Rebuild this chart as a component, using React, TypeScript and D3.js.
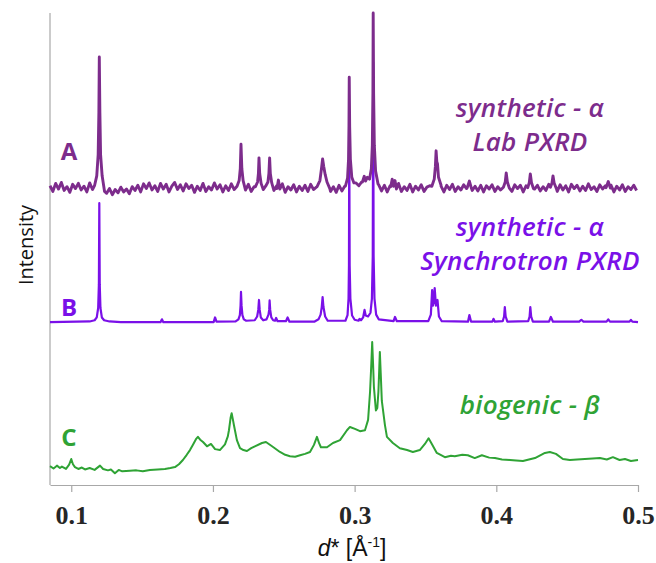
import React, { useEffect, useRef } from "react";
import * as d3 from "d3";

const WIDTH = 656;
const HEIGHT = 563;

const xTicks = [0.1, 0.2, 0.3, 0.4, 0.5];

// vertical offsets of the stacked patterns (intensity units, 0-100 axis)
const offsetA = 63;
const offsetB = 34.5;
const offsetC = 3.8;

// A: lab PXRD, noisy baseline sampled every 0.002 from d* = 0.085
const labBaselineStart = 0.085;
const labBaselineStep = 0.002;
const labBaseline = [
  0.4, -0.8, 0.9, -0.3, 1.1, -0.6, 0.2, -1.0, 0.7, -0.2,
  0.9, -0.5, 0.3, -0.9, 1.0, -0.4, 0.5, 0.6, -0.3, -0.8,
  -1.2, -0.2, -1.5, -0.4, -1.1, 0.1, -0.9, -0.3, -1.3, 0.2,
  -0.6, 0.5, -0.9, 0.8, -0.2, 1.0, -0.5, 0.4, -0.8, 0.9,
  -0.3, 0.7, -0.9, 0.3, 1.1, -0.4, 0.6, -0.7, 0.8, -0.2,
  0.5, -1.0, 0.3, -0.6, 0.9, -0.8, 0.2, -0.5, 1.0, -0.3,
  0.6, -0.9, 0.4, -0.6, 0.8, -0.4, 0.5, -0.7, 0.3, -0.5,
  0.7, -0.8, 0.2, -0.4, 0.9, -0.6, 0.3, -0.5, 0.6, -0.9,
  0.4, -0.7, 0.8, -1.0, 0.2, -0.5, 0.6, -0.9, 0.3, -0.6,
  0.5, -0.8, 0.7, -0.4, 0.1, -0.9, 0.6, -0.3, 0.4, -0.8,
  0.2, -1.0, 0.5, -0.7, 0.3, -0.4, 0.8, 0.1, 1.0, 0.4,
  1.2, 0.6, 1.4, 0.8, 0.9, -0.2, 0.6, -0.7, 0.5, -0.9,
  0.4, 1.1, -0.3, 0.9, -0.8, 0.2, -0.6, 0.7, -0.9, 0.3,
  -0.5, 0.6, -0.8, 0.1, 0.4, -0.3, 0.5, -0.6, 0.3, -0.9,
  0.5, -0.4, 0.7, -0.8, 0.2, -0.5, 0.6, -0.2, 0.8, -0.6,
  0.3, -0.7, 0.5, -0.9, 0.4, -0.3, 0.6, -0.8, 0.2, -0.5,
  0.7, -0.4, 0.3, -0.8, 0.6, -0.2, 0.5, -0.9, 0.4, -0.6,
  0.8, -0.3, 0.5, -0.7, 0.2, -0.6, 0.7, -0.4, 0.3, -0.8,
  0.6, -0.5, 0.4, -0.9, 0.7, -0.2, 0.5, -0.7, 0.3, -0.6,
  0.8, -0.4, 0.2, -0.8, 0.6, -0.3, 0.4, -0.7, 0.5, -0.9,
  0.3, -0.5, 0.6, -0.8, 0.2, -0.4, 0.5, -0.6,
];

// A: peaks as [d*, intensity] points
const labPeaks: [number, number][][] = [
  [[0.1165, 0.5], [0.118, 2.5], [0.119, 7], [0.1195, 16], [0.1198, 27.7], [0.1202, 16], [0.1207, 7], [0.1218, 2.5], [0.1235, -0.8]],
  [[0.217, 0.3], [0.2185, 1.5], [0.2193, 4], [0.2198, 9.2], [0.2204, 4], [0.2213, 1.5], [0.2228, -0.3]],
  [[0.23, 0.2], [0.2315, 1.2], [0.2321, 3], [0.2325, 6.3], [0.233, 3], [0.234, 0.9], [0.2355, -0.4], [0.2372, 0.3], [0.2388, 1.2], [0.2395, 3], [0.24, 6.3], [0.2405, 3], [0.2415, 1], [0.243, -0.6]],
  [[0.2452, -0.2], [0.2462, 1.6], [0.2472, -0.3]],
  [[0.2735, 0.2], [0.2755, 1.5], [0.2766, 4], [0.2774, 6.1], [0.2782, 4.5], [0.2792, 2.8], [0.2805, 1.2], [0.2825, -0.2]],
  [[0.2935, 0.3], [0.295, 2], [0.2957, 6], [0.296, 13], [0.2962, 23.4], [0.2965, 13], [0.297, 6], [0.298, 2.2], [0.2995, 1.0]],
  [[0.3055, 1.2], [0.3068, 2.4], [0.3077, 1.4], [0.309, 2.2], [0.3105, 1.8], [0.3118, 4], [0.3125, 9], [0.3129, 20], [0.3131, 37], [0.3134, 20], [0.3139, 9], [0.3148, 3.5], [0.3165, 0.8]],
  [[0.3255, 0.2], [0.3265, 1.8], [0.3275, 0.3], [0.3285, 1.5], [0.3295, -0.3]],
  [[0.3545, 0.3], [0.3562, 1.8], [0.357, 4.5], [0.3575, 7.8], [0.358, 5.5], [0.3585, 5.0], [0.3592, 2.2], [0.361, 0.5]],
  [[0.3795, 0], [0.381, 1.4], [0.3825, -0.2]],
  [[0.405, 0.1], [0.4063, 1.2], [0.407, 3.1], [0.4078, 1.2], [0.4092, -0.1]],
  [[0.4222, 0], [0.4233, 1.1], [0.424, 2.9], [0.4248, 1.1], [0.4262, -0.2]],
  [[0.4382, 0.1], [0.4393, 1], [0.44, 2.5], [0.4408, 1.0], [0.4425, -0.3]],
  [[0.4775, 0], [0.479, 1.3], [0.4805, -0.1]],
];

// B: synchrotron PXRD, [d*, intensity]
const synchrotron: [number, number][] = [
  [0.085, 0], [0.113, 0.15], [0.1165, 0.4], [0.118, 1.0], [0.119, 3], [0.1195, 8], [0.1198, 25.2],
  [0.1201, 8], [0.1206, 3], [0.1216, 1.0], [0.1232, 0.4], [0.127, 0.15], [0.135, 0],
  [0.163, 0], [0.164, 0.6], [0.165, 0],
  [0.2005, 0], [0.2015, 1.0], [0.2025, 0.1],
  [0.216, 0.15], [0.218, 0.6], [0.219, 1.5], [0.2195, 3.5], [0.2198, 6.4], [0.2202, 3.5], [0.2208, 1.5], [0.2218, 0.6],
  [0.2235, 0.3], [0.2295, 0.4], [0.2312, 1.2], [0.232, 2.6], [0.2325, 4.7], [0.233, 2.6], [0.2338, 1.0], [0.2355, 0.4],
  [0.2378, 0.6], [0.2392, 1.6], [0.2397, 2.6], [0.24, 4.6], [0.2404, 2.6], [0.2412, 1.0], [0.2425, 0.4],
  [0.2438, 0.3], [0.2446, 0.9], [0.2456, 0.2], [0.2515, 0.2], [0.2527, 1.0], [0.254, 0.1],
  [0.2715, 0.1], [0.2745, 0.6], [0.276, 1.6], [0.2768, 3.2], [0.2774, 5.3], [0.278, 3.2], [0.2792, 1.2], [0.281, 0.3],
  [0.2935, 0.3], [0.295, 1.5], [0.2957, 5], [0.296, 12], [0.2962, 40], [0.2965, 12], [0.297, 5], [0.2982, 1.4],
  [0.3, 0.5], [0.3028, 0.3], [0.3035, 0.7], [0.3045, 0.4], [0.306, 1.0], [0.307, 2.6], [0.3078, 1.4],
  [0.3095, 1.2], [0.3112, 2], [0.3122, 5], [0.3128, 14], [0.3131, 55], [0.3134, 14], [0.314, 5], [0.3152, 1.6],
  [0.317, 0.6], [0.3275, 0.2], [0.3285, 1.1], [0.3298, 0.2],
  [0.352, 0.2], [0.3538, 1.6], [0.3547, 6.8], [0.3553, 3.5], [0.3558, 4.2], [0.3565, 7.2], [0.3574, 3.5],
  [0.3585, 4.7], [0.3595, 1.2], [0.3615, 0.2],
  [0.38, 0.1], [0.381, 1.5], [0.3822, 0.1], [0.3972, 0.1], [0.398, 0.7], [0.399, 0.1],
  [0.4045, 0.2], [0.4055, 1.2], [0.406, 3.2], [0.4066, 1.2], [0.4078, 0.1],
  [0.4225, 0.2], [0.4235, 1.2], [0.424, 3.2], [0.4246, 1.2], [0.4258, 0.1],
  [0.4372, 0.1], [0.4385, 1.1], [0.44, 0.1], [0.4585, 0.1], [0.46, 0.5], [0.4615, 0.1],
  [0.4778, 0.1], [0.479, 0.6], [0.4802, 0.1], [0.494, 0.1], [0.495, 0.5], [0.496, 0.1], [0.5, 0],
];

// C: biogenic, [d*, intensity]
const biogenic: [number, number][] = [
  [0.085, 0.2], [0.0875, -0.3], [0.0899, 0.3], [0.092, -0.2], [0.0934, 0.1], [0.0963, -0.4], [0.0985, 0.5],
  [0.1, 1.7], [0.1012, 0.6], [0.1026, 0.0], [0.105, -0.4], [0.1075, -0.1], [0.1097, -0.5], [0.113, -0.2],
  [0.1165, -0.6], [0.1203, 0.3], [0.1225, -0.4], [0.1259, -0.7], [0.128, -0.5], [0.1308, -1.3], [0.1335, -0.6],
  [0.136, -0.9], [0.1414, -0.8], [0.146, -0.7], [0.1505, -0.9], [0.1555, -0.6], [0.161, -0.5], [0.1661, -0.4],
  [0.17, -0.2], [0.1732, 0.0], [0.176, 0.6], [0.1788, 1.5], [0.1815, 2.6], [0.1838, 3.6], [0.186, 4.8],
  [0.188, 5.9], [0.1894, 6.4], [0.191, 5.8], [0.193, 5.3], [0.1958, 4.4], [0.1986, 4.9], [0.2015, 3.8],
  [0.2049, 3.6], [0.2085, 4.8], [0.2105, 6.5], [0.2113, 7.8], [0.2125, 10.5], [0.2132, 11.4], [0.214, 10.2],
  [0.2148, 8.9], [0.2169, 5.7], [0.2191, 4.0], [0.2215, 3.6], [0.224, 3.4], [0.227, 4.0], [0.2296, 4.4],
  [0.2346, 5.1], [0.2374, 5.3], [0.2417, 4.4], [0.2473, 3.2], [0.251, 2.6], [0.2544, 2.3], [0.258, 2.2],
  [0.2615, 2.5], [0.265, 2.8], [0.2685, 3.2], [0.2713, 4.7], [0.2734, 6.4], [0.275, 5.0], [0.2762, 4.2],
  [0.2805, 4.2], [0.2847, 5.1], [0.2897, 5.7], [0.2946, 7.8], [0.2967, 8.5], [0.3002, 8.1], [0.3038, 7.6],
  [0.3073, 7.8], [0.3095, 10], [0.3109, 16], [0.3118, 22], [0.3124, 26.5], [0.313, 22], [0.3136, 17],
  [0.315, 12], [0.316, 12.5], [0.3168, 16], [0.3174, 21], [0.3178, 24.4], [0.3184, 20], [0.3192, 14],
  [0.3214, 8.9], [0.3228, 6.4], [0.327, 5.1], [0.3319, 4.0], [0.337, 3.6], [0.3411, 3.2], [0.346, 3.6],
  [0.3496, 4.9], [0.3522, 6.1], [0.3545, 4.9], [0.358, 3.0], [0.3637, 2.1], [0.368, 2.4], [0.3707, 2.3],
  [0.376, 2.6], [0.3799, 2.5], [0.3848, 1.9], [0.3898, 2.5], [0.395, 2.0], [0.399, 1.9], [0.404, 1.6],
  [0.4096, 1.5], [0.414, 1.4], [0.4188, 1.3], [0.423, 1.6], [0.4273, 1.9], [0.4343, 3.0], [0.4378, 3.2],
  [0.4421, 2.8], [0.447, 1.7], [0.4519, 1.5], [0.457, 1.6], [0.4625, 1.7], [0.468, 1.8], [0.4731, 1.9],
  [0.478, 1.6], [0.4823, 2.1], [0.487, 1.5], [0.4908, 1.7], [0.495, 1.3], [0.5, 1.5],
];

const COLOR_A = "#7d2c8c";
const COLOR_B = "#7a10e8";
const COLOR_C = "#2fa335";

const App = () => {
  const svgRef = useRef<SVGSVGElement>(null);

  useEffect(() => {
    if (!svgRef.current) return;
    const svg = d3.select(svgRef.current);
    svg.selectAll("*").remove();

    const x = d3.scaleLinear().domain([0.085, 0.5]).range([50, 638]);
    const y = d3.scaleLinear().domain([0, 100]).range([485, 13]);

    // build the lab trace: baseline samples outside the peak windows + peaks
    const windows = labPeaks.map((g) => [g[0][0], g[g.length - 1][0]]);
    const labTrace: [number, number][] = labBaseline
      .map((v, i) => [labBaselineStart + i * labBaselineStep, v] as [number, number])
      .filter(([d]) => !windows.some(([lo, hi]) => d >= lo && d <= hi));
    labPeaks.forEach((g) => labTrace.push(...g));
    labTrace.sort((a, b) => a[0] - b[0]);

    const line = (offset: number) =>
      d3
        .line<[number, number]>()
        .x((d) => x(d[0]))
        .y((d) => y(offset + d[1]));

    // axes (left + bottom spine only)
    const axisColor = "#a8a8a8";
    svg
      .append("line")
      .attr("x1", 50)
      .attr("x2", 50)
      .attr("y1", y(100))
      .attr("y2", y(0))
      .attr("stroke", axisColor)
      .attr("stroke-width", 1.2);

    const xAxis = svg
      .append("g")
      .attr("transform", `translate(0,${y(0)})`)
      .call(d3.axisBottom(x).tickValues(xTicks).tickSize(7).tickSizeOuter(0).tickFormat(d3.format(".1f")));
    xAxis.select(".domain").attr("stroke", axisColor).attr("stroke-width", 1.2);
    xAxis.selectAll(".tick line").attr("stroke", axisColor).attr("stroke-width", 1.2);
    xAxis
      .selectAll(".tick text")
      .attr("y", 0)
      .attr("dy", 0)
      .attr("transform", "translate(0,39)")
      .attr("font-family", "'Liberation Serif', 'Times New Roman', serif")
      .attr("font-weight", "bold")
      .attr("font-size", 26)
      .attr("fill", "#262626");

    // traces: C, then B, then A on top
    svg
      .append("path")
      .datum(biogenic)
      .attr("d", line(offsetC))
      .attr("fill", "none")
      .attr("stroke", COLOR_C)
      .attr("stroke-width", 2)
      .attr("stroke-linejoin", "round");

    svg
      .append("path")
      .datum(synchrotron)
      .attr("d", line(offsetB))
      .attr("fill", "none")
      .attr("stroke", COLOR_B)
      .attr("stroke-width", 2.2)
      .attr("stroke-linejoin", "round");

    svg
      .append("path")
      .datum(labTrace)
      .attr("d", line(offsetA))
      .attr("fill", "none")
      .attr("stroke", COLOR_A)
      .attr("stroke-width", 2.9)
      .attr("stroke-linejoin", "round");

    // trace letters
    const letters = [
      { t: "A", c: COLOR_A, y: 160 },
      { t: "B", c: COLOR_B, y: 316 },
      { t: "C", c: COLOR_C, y: 446 },
    ];
    svg
      .selectAll("text.letter")
      .data(letters)
      .join("text")
      .attr("class", "letter")
      .attr("x", 69)
      .attr("y", (d) => d.y)
      .attr("text-anchor", "middle")
      .attr("font-family", "'Open Sans', sans-serif")
      .attr("font-weight", 700)
      .attr("font-size", 24)
      .attr("fill", (d) => d.c)
      .text((d) => d.t);

    // sample annotations
    const notes = [
      { t: "synthetic - α", c: COLOR_A, y: 117 },
      { t: "Lab PXRD", c: COLOR_A, y: 151 },
      { t: "synthetic - α", c: COLOR_B, y: 236 },
      { t: "Synchrotron PXRD", c: COLOR_B, y: 270 },
      { t: "biogenic - β", c: COLOR_C, y: 414 },
    ];
    svg
      .selectAll("text.note")
      .data(notes)
      .join("text")
      .attr("class", "note")
      .attr("x", 530)
      .attr("y", (d) => d.y)
      .attr("text-anchor", "middle")
      .attr("font-family", "'Open Sans', sans-serif")
      .attr("font-style", "italic")
      .attr("font-weight", 600)
      .attr("font-size", 26)
      .attr("letter-spacing", 0.3)
      .attr("fill", (d) => d.c)
      .text((d) => d.t);

    // y label
    svg
      .append("text")
      .attr("transform", "translate(33,245) rotate(-90)")
      .attr("text-anchor", "middle")
      .attr("font-family", "'Open Sans', sans-serif")
      .attr("font-size", 20)
      .attr("fill", "#111")
      .text("Intensity");

    // x label: d* [Å-1]
    const xl = svg
      .append("text")
      .attr("x", 352)
      .attr("y", 556)
      .attr("text-anchor", "middle")
      .attr("font-family", "'Liberation Sans', Arial, sans-serif")
      .attr("font-size", 23)
      .attr("fill", "#111");
    xl.append("tspan").attr("font-style", "italic").text("d");
    xl.append("tspan").text("* [Å");
    xl.append("tspan").attr("dy", -9).attr("font-size", 14).text("-1");
    xl.append("tspan").attr("dy", 9).text("]");
  }, []);

  return (
    <svg
      ref={svgRef}
      width={WIDTH}
      height={HEIGHT}
      style={{ position: "absolute", left: 0, top: 0, background: "#fff", display: "block" }}
    />
  );
};

export default App;
